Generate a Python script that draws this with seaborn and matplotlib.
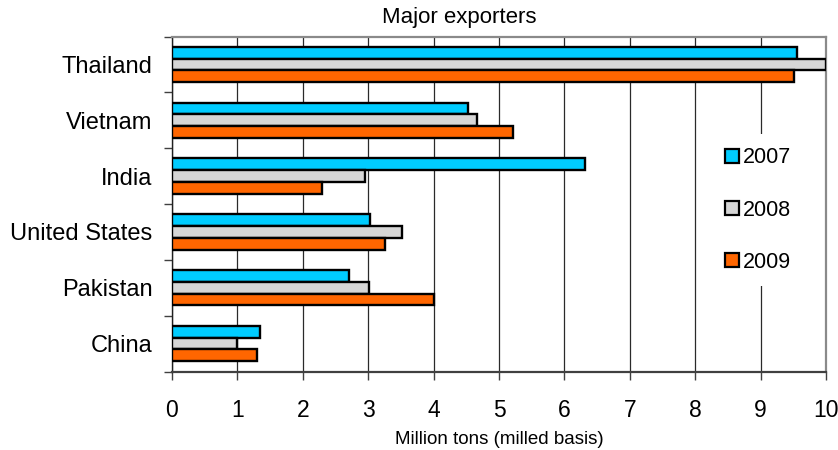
import matplotlib
matplotlib.use("Agg")
import matplotlib.pyplot as plt
from matplotlib.patches import Patch
from matplotlib.ticker import FixedLocator
import pandas as pd
import seaborn as sns

countries = ["Thailand", "Vietnam", "India", "United States", "Pakistan", "China"]
years = ["2007", "2008", "2009"]
exports_2007 = [9.56, 4.52, 6.31, 3.03, 2.70, 1.34]
exports_2008 = [10.0, 4.66, 2.95, 3.51, 3.01, 0.99]
exports_2009 = [9.51, 5.21, 2.30, 3.26, 4.00, 1.30]
x_ticks = list(range(0, 11))

colors = {"2007": "#00CCFF", "2008": "#D6D6D6", "2009": "#FF6600"}

df = pd.DataFrame({
    "country": countries * 3,
    "year": ["2007"] * 6 + ["2008"] * 6 + ["2009"] * 6,
    "value": exports_2007 + exports_2008 + exports_2009,
})

sns.set_style("white")
plt.rcParams["font.family"] = ["Liberation Sans", "DejaVu Sans"]
plt.rcParams["text.color"] = "black"
plt.rcParams["axes.labelcolor"] = "black"
plt.rcParams["xtick.color"] = "black"
plt.rcParams["ytick.color"] = "black"

W, H = 838, 450
fig = plt.figure(figsize=(W / 100, H / 100), dpi=100)
ax = fig.add_axes([172 / W, 1 - 371.5 / H, 654 / W, (371.5 - 36.5) / H])

sns.barplot(
    data=df, y="country", x="value", hue="year", orient="h",
    order=countries, hue_order=years, palette=colors, saturation=1,
    width=0.63, gap=0, edgecolor="black", linewidth=1.7,
    legend=False, ax=ax, zorder=3,
)

ax.set_xlim(0, 10)
ax.set_ylim(len(countries) - 0.5, -0.5)
ax.set_xticks(x_ticks)
ax.set_xticklabels([str(t) for t in x_ticks], fontsize=16.5)
ax.xaxis.grid(True, color="#2a2a2a", linewidth=0.9, zorder=0)
ax.yaxis.grid(False)
ax.set_axisbelow(True)

# category labels at the centres, tick marks at the band boundaries
ax.set_yticks(range(len(countries)))
ax.set_yticklabels(countries, fontsize=17)
ax.yaxis.set_minor_locator(FixedLocator([i - 0.5 for i in range(len(countries) + 1)]))
ax.tick_params(axis="y", which="major", length=0, pad=14)
ax.tick_params(axis="y", which="minor", length=6, width=1, color="#404040", direction="out", left=True)
ax.tick_params(axis="x", which="major", length=6, width=1, color="#404040", direction="out", bottom=True, pad=14)

ax.set_xlabel("Million tons (milled basis)", fontsize=13.5, labelpad=6)
ax.set_ylabel("")

for side in ["top", "right"]:
    ax.spines[side].set_color("#8a8a8a")
    ax.spines[side].set_linewidth(1.6)
ax.spines["left"].set_color("#202020")
ax.spines["left"].set_linewidth(1.0)
ax.spines["bottom"].set_color("#404040")
ax.spines["bottom"].set_linewidth(1.6)

fig.text(459 / W, 1 - 18 / H, "Major exporters", ha="center", va="center", fontsize=16)

handles = [Patch(facecolor=colors[y], edgecolor="black", linewidth=1.6) for y in years]
leg = ax.legend(
    handles, years, loc="center left", bbox_to_anchor=(712 / W, 1 - 210 / H),
    bbox_transform=fig.transFigure, frameon=True, fontsize=15.5,
    handlelength=0.65, handleheight=0.65, handletextpad=0.2,
    labelspacing=1.45, borderpad=0.6, borderaxespad=0,
)
leg.get_frame().set_facecolor("white")
leg.get_frame().set_edgecolor("none")
leg.get_frame().set_alpha(1)
leg.set_zorder(5)

fig.savefig("out.png", dpi=100)
